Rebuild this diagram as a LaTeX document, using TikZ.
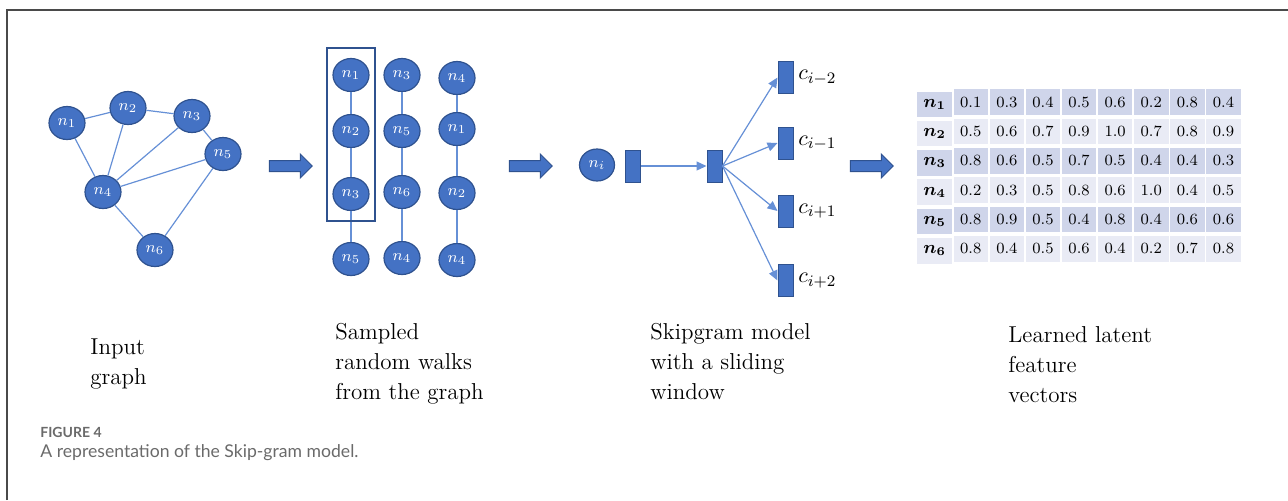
\documentclass[tikz,border=0pt]{standalone}
\usepackage{amsmath}
\usepackage{fontspec}
\newfontfamily\capfont{Lato}
\usepackage{tikz}
\usetikzlibrary{
  shapes.geometric,
  shapes.arrows,
  matrix,
  positioning,
  fit,
  arrows.meta,
  }

\definecolor{nodeblue}{HTML}{4472C4}
\definecolor{nodeline}{HTML}{2F528F}
\definecolor{edgeblue}{HTML}{6690D6}
\definecolor{rowdark}{HTML}{CFD5EA}
\definecolor{rowlight}{HTML}{E9EBF5}
\definecolor{framegray}{HTML}{4A4A4A}
\definecolor{capgray}{HTML}{6A6A6A}

\begin{document}
\begin{tikzpicture}[x=0.5pt, y=-0.5pt,
    every node/.style={inner sep=0pt},
    vertex/.style={ellipse, draw=nodeline, fill=nodeblue, text=white, line width=0.6pt,
                   minimum width=18pt, minimum height=16.5pt, font=\fontsize{8}{8}\selectfont},
    link/.style={draw=edgeblue, line width=0.6pt},
    vec/.style={rectangle, draw=nodeline, fill=nodeblue, line width=0.5pt,
                minimum width=7.5pt, minimum height=16pt},
    flow/.style={draw=edgeblue, line width=0.6pt, -{Triangle[length=5pt, width=4.5pt]}},
    bigarrow/.style={single arrow, draw=nodeline, fill=nodeblue, line width=0.5pt, inner ysep=2.5pt,
                     minimum height=21.5pt, minimum width=11.5pt, single arrow head extend=3.25pt},
    stage/.style={anchor=north west, align=left, font=\fontsize{11.5}{15}\selectfont},
  ]
    \useasboundingbox (0,0) rectangle (1288,500);
    \draw[framegray, line width=1pt] (7,500) -- (7,10) -- (1288,10);

    \node[vertex] (n1) at (67,123)  {$n_1$};
    \node[vertex] (n2) at (128,108) {$n_2$};
    \node[vertex] (n3) at (192,116) {$n_3$};
    \node[vertex] (n5) at (223,154) {$n_5$};
    \node[vertex] (n4) at (103,192) {$n_4$};
    \node[vertex] (n6) at (155,250) {$n_6$};
    \draw[link] (n1) -- (n2) (n1) -- (n4) (n2) -- (n3) (n2) -- (n4) (n3) -- (n4)
                (n3) -- (n5) (n5) -- (n4) (n4) -- (n6) (n5) -- (n6);

    \node[bigarrow] (go1) at (288,166) {};

    \node[vertex] (wa1) at (351,75)  {$n_1$};
    \node[vertex] (wa2) at (351,131) {$n_2$};
    \node[vertex] (wa3) at (351,194) {$n_3$};
    \node[vertex] (wa4) at (351,259) {$n_5$};
    \node[vertex] (wb1) at (402,75)  {$n_3$};
    \node[vertex] (wb2) at (402,131) {$n_5$};
    \node[vertex] (wb3) at (402,192) {$n_6$};
    \node[vertex] (wb4) at (402,258) {$n_4$};
    \node[vertex] (wc1) at (457,78)  {$n_4$};
    \node[vertex] (wc2) at (457,129) {$n_1$};
    \node[vertex] (wc3) at (457,193) {$n_2$};
    \node[vertex] (wc4) at (457,260) {$n_4$};
    \draw[link] (wa1) -- (wa2) -- (wa3) -- (wa4)
                (wb1) -- (wb2) -- (wb3) -- (wb4)
                (wc1) -- (wc2) -- (wc3) -- (wc4);
    \node[draw=nodeline, line width=1pt, inner xsep=2.75pt, inner ysep=4.75pt, fit=(wa1)(wa3)] (window) {};

    \node[bigarrow] (go2) at (528,166) {};

    \node[vertex, minimum width=17.5pt, minimum height=16pt] (ni) at (597,165) {$n_i$};
    \node[vec] (hid1) at (633,166) {};
    \node[vec] (hid2) at (714.5,166) {};
    \node[vec] (c1) at (785.5,77.5) {};
    \node[vec] (c2) at (785.5,143)  {};
    \node[vec] (c3) at (785.5,211)  {};
    \node[vec] (c4) at (785.5,280.5) {};
    \node[anchor=west, font=\fontsize{11}{11}\selectfont] at (798,77.5) {$c_{i-2}$};
    \node[anchor=west, font=\fontsize{11}{11}\selectfont] at (798,143) {$c_{i-1}$};
    \node[anchor=west, font=\fontsize{11}{11}\selectfont] at (798,211) {$c_{i+1}$};
    \node[anchor=west, font=\fontsize{11}{11}\selectfont] at (798,280.5) {$c_{i+2}$};
    \draw[flow] (hid1.east) -- (hid2.west);
    \draw[flow] (hid2.east) -- (c1.west);
    \draw[flow] (hid2.east) -- (c2.west);
    \draw[flow] (hid2.east) -- (c3.west);
    \draw[flow] (hid2.east) -- (c4.west);

    \node[bigarrow] (go3) at (869,166) {};

    \matrix (vectors) [matrix of nodes, anchor=north west, column sep=0.8pt, row sep=0.8pt,
        nodes={minimum width=17.25pt, minimum height=12.8pt, font=\fontsize{7.8}{7.8}\selectfont},
        column 1/.style={nodes={font=\fontsize{8.8}{8.8}\selectfont}},
        row 1/.style={nodes={fill=rowdark}}, row 2/.style={nodes={fill=rowlight}},
        row 3/.style={nodes={fill=rowdark}}, row 4/.style={nodes={fill=rowlight}},
        row 5/.style={nodes={fill=rowdark}}, row 6/.style={nodes={fill=rowlight}}]
      at (917,89) {
      $\boldsymbol{n_1}$ & 0.1 & 0.3 & 0.4 & 0.5 & 0.6 & 0.2 & 0.8 & 0.4 \\
      $\boldsymbol{n_2}$ & 0.5 & 0.6 & 0.7 & 0.9 & 1.0 & 0.7 & 0.8 & 0.9 \\
      $\boldsymbol{n_3}$ & 0.8 & 0.6 & 0.5 & 0.7 & 0.5 & 0.4 & 0.4 & 0.3 \\
      $\boldsymbol{n_4}$ & 0.2 & 0.3 & 0.5 & 0.8 & 0.6 & 1.0 & 0.4 & 0.5 \\
      $\boldsymbol{n_5}$ & 0.8 & 0.9 & 0.5 & 0.4 & 0.8 & 0.4 & 0.6 & 0.6 \\
      $\boldsymbol{n_6}$ & 0.8 & 0.4 & 0.5 & 0.6 & 0.4 & 0.2 & 0.7 & 0.8 \\
    };

    \node[stage] (s1) at (90,338)   {Input\\graph};
    \node[stage] (s2) at (335,323)  {Sampled\\random walks\\from the graph};
    \node[stage] (s3) at (650,323)  {Skipgram model\\with a sliding\\window};
    \node[stage] (s4) at (1008,326) {Learned latent\\feature\\vectors};

    \node[anchor=west, text=capgray, font=\capfont\bfseries\fontsize{7}{7}\selectfont] (fig) at (40,432) {FIGURE 4};
    \node[anchor=west, text=capgray, font=\capfont\fontsize{8.8}{8.8}\selectfont] (cap) at (40,453) {A representation of the Skip-gram model.};
\end{tikzpicture}
\end{document}
